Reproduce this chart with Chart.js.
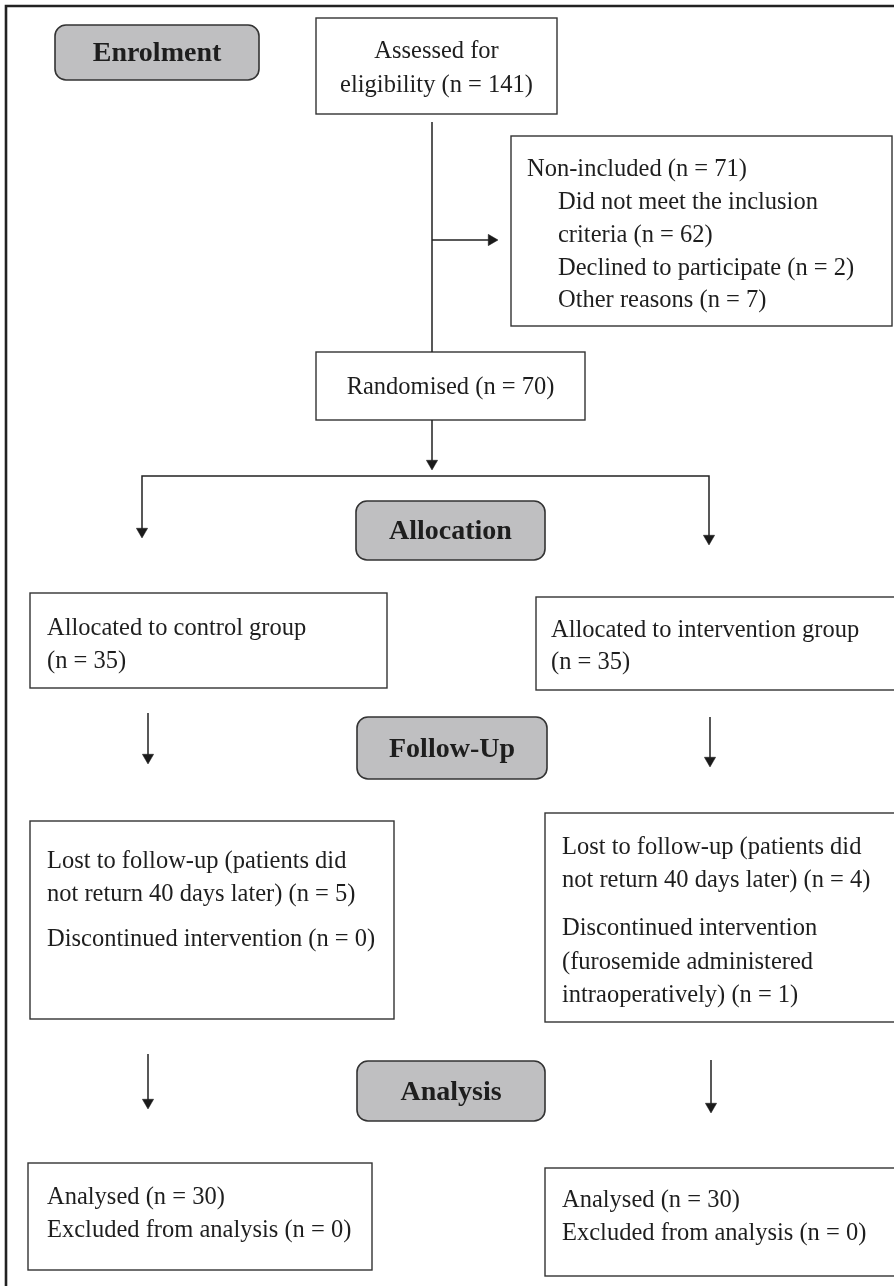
<!DOCTYPE html>
<html>
<head>
<meta charset="utf-8">
<script src="https://cdn.jsdelivr.net/npm/chart.js@4/dist/chart.umd.min.js"></script>
<style>
  html, body { margin: 0; padding: 0; background: #fff; }
  #wrap { width: 894px; height: 1286px; position: relative; }
</style>
</head>
<body>
<div id="wrap"><canvas id="flow"></canvas></div>
<script>
// ---- content of the diagram ----
const stageLabels = ['Enrolment', 'Allocation', 'Follow-Up', 'Analysis']
const assessedText = ['Assessed for', 'eligibility (n = 141)']
const excludedText = ['Non-included (n = 71)', 'Did not meet the inclusion', 'criteria (n = 62)', 'Declined to participate (n = 2)', 'Other reasons (n = 7)']
const randomisedText = ['Randomised (n = 70)']
const controlAllocText = ['Allocated to control group', '(n = 35)']
const interventionAllocText = ['Allocated to intervention group', '(n = 35)']
const controlFollowText = ['Lost to follow-up (patients did', 'not return 40 days later) (n = 5)', 'Discontinued intervention (n = 0)']
const interventionFollowText = ['Lost to follow-up (patients did', 'not return 40 days later) (n = 4)', 'Discontinued intervention', '(furosemide administered', 'intraoperatively) (n = 1)']
const controlAnalysisText = ['Analysed (n = 30)', 'Excluded from analysis (n = 0)']
const interventionAnalysisText = ['Analysed (n = 30)', 'Excluded from analysis (n = 0)']

// ---- layout (in scale units, which match the page pixels) ----
const stageBoxes = [
  { x0: 55, y0: 25, x1: 259, y1: 80 },
  { x0: 356, y0: 501, x1: 545, y1: 560 },
  { x0: 357, y0: 717, x1: 547, y1: 779 },
  { x0: 357, y0: 1061, x1: 545, y1: 1121 }
]
const textBoxes = [
  { x0: 316, y0: 18, x1: 557, y1: 114, lines: assessedText, center: true, ty: [50, 84] },
  { x0: 511, y0: 136, x1: 892, y1: 326, lines: excludedText, tx: [527, 558, 558, 558, 558], ty: [168, 201, 234, 267, 299] },
  { x0: 316, y0: 352, x1: 585, y1: 420, lines: randomisedText, center: true, ty: [386] },
  { x0: 30, y0: 593, x1: 387, y1: 688, lines: controlAllocText, tx: [47, 47], ty: [627, 660] },
  { x0: 536, y0: 597, x1: 896, y1: 690, lines: interventionAllocText, tx: [551, 551], ty: [629, 661] },
  { x0: 30, y0: 821, x1: 394, y1: 1019, lines: controlFollowText, tx: [47, 47, 47], ty: [860, 893, 938] },
  { x0: 545, y0: 813, x1: 896, y1: 1022, lines: interventionFollowText, tx: [562, 562, 562, 562, 562], ty: [846, 879, 927, 961, 994] },
  { x0: 28, y0: 1163, x1: 372, y1: 1270, lines: controlAnalysisText, tx: [47, 47], ty: [1196, 1229] },
  { x0: 545, y0: 1168, x1: 896, y1: 1276, lines: interventionAnalysisText, tx: [562, 562], ty: [1199, 1232] }
]
const connectors = [
  [{ x: 6, y: 1290 }, { x: 6, y: 6 }, { x: 898, y: 6 }],
  [{ x: 432, y: 122 }, { x: 432, y: 352 }],
  [{ x: 432, y: 240 }, { x: 490, y: 240 }],
  [{ x: 432, y: 420 }, { x: 432, y: 462 }],
  [{ x: 142, y: 530 }, { x: 142, y: 476 }, { x: 709, y: 476 }, { x: 709, y: 537 }],
  [{ x: 148, y: 713 }, { x: 148, y: 756 }],
  [{ x: 710, y: 717 }, { x: 710, y: 759 }],
  [{ x: 148, y: 1054 }, { x: 148, y: 1101 }],
  [{ x: 711, y: 1060 }, { x: 711, y: 1105 }]
]
const arrowHeads = [
  { x: 491.5, y: 240, r: 90 },
  { x: 432, y: 463.5, r: 180 },
  { x: 142, y: 531.5, r: 180 },
  { x: 709, y: 538.5, r: 180 },
  { x: 148, y: 757.5, r: 180 },
  { x: 710, y: 760.5, r: 180 },
  { x: 148, y: 1102.5, r: 180 },
  { x: 711, y: 1106.5, r: 180 }
]

const FONT = '"Liberation Serif", "DejaVu Serif", serif'

const boxPlugin = {
  id: 'boxes',
  beforeDatasetsDraw (chart) {
    const { ctx, scales: { x, y } } = chart
    ctx.save()
    stageBoxes.forEach((b, i) => {
      const px0 = x.getPixelForValue(b.x0)
      const py0 = y.getPixelForValue(b.y0)
      const w = x.getPixelForValue(b.x1) - px0
      const h = y.getPixelForValue(b.y1) - py0
      ctx.beginPath()
      ctx.roundRect(px0, py0, w, h, 11)
      ctx.fillStyle = '#bfbfc1'
      ctx.fill()
      ctx.lineWidth = 1.6
      ctx.strokeStyle = '#333'
      ctx.stroke()
      ctx.fillStyle = '#1e1e1e'
      ctx.font = 'bold 28px ' + FONT
      ctx.textAlign = 'center'
      ctx.textBaseline = 'middle'
      ctx.fillText(stageLabels[i], px0 + w / 2, py0 + h / 2 + 1.5)
    })
    textBoxes.forEach((b) => {
      const px0 = x.getPixelForValue(b.x0)
      const py0 = y.getPixelForValue(b.y0)
      const w = x.getPixelForValue(b.x1) - px0
      const h = y.getPixelForValue(b.y1) - py0
      ctx.fillStyle = '#fff'
      ctx.fillRect(px0, py0, w, h)
      ctx.lineWidth = 1.4
      ctx.strokeStyle = '#333'
      ctx.strokeRect(px0, py0, w, h)
      ctx.fillStyle = '#1e1e1e'
      ctx.font = '24.5px ' + FONT
      ctx.textBaseline = 'middle'
      b.lines.forEach((line, j) => {
        const ly = y.getPixelForValue(b.ty[j]) + 1.5
        if (b.center) {
          ctx.textAlign = 'center'
          ctx.fillText(line, px0 + w / 2, ly)
        } else {
          ctx.textAlign = 'left'
          ctx.fillText(line, x.getPixelForValue(b.tx[j]), ly)
        }
      })
    })
    ctx.restore()
  }
}

const datasets = connectors.map((pts, i) => ({
  type: 'line',
  data: pts,
  borderColor: '#222',
  borderWidth: i === 0 ? 2.6 : 1.5,
  pointRadius: 0,
  fill: false,
  tension: 0,
  clip: false
}))
datasets.push({
  type: 'scatter',
  data: arrowHeads.map((a) => ({ x: a.x, y: a.y })),
  pointStyle: 'triangle',
  rotation: arrowHeads.map((a) => a.r),
  pointRadius: 6.5,
  backgroundColor: '#1a1a1a',
  borderColor: '#1a1a1a',
  borderWidth: 0.5
})

new Chart(document.getElementById('flow'), {
  type: 'scatter',
  data: { datasets },
  options: {
    responsive: true,
    maintainAspectRatio: false,
    animation: false,
    layout: { padding: 0, autoPadding: false },
    plugins: { legend: { display: false }, tooltip: { enabled: false } },
    scales: {
      x: { type: 'linear', min: 0, max: 894, display: false },
      y: { type: 'linear', min: 0, max: 1286, reverse: true, display: false }
    }
  },
  plugins: [boxPlugin]
})
</script>
</body>
</html>
